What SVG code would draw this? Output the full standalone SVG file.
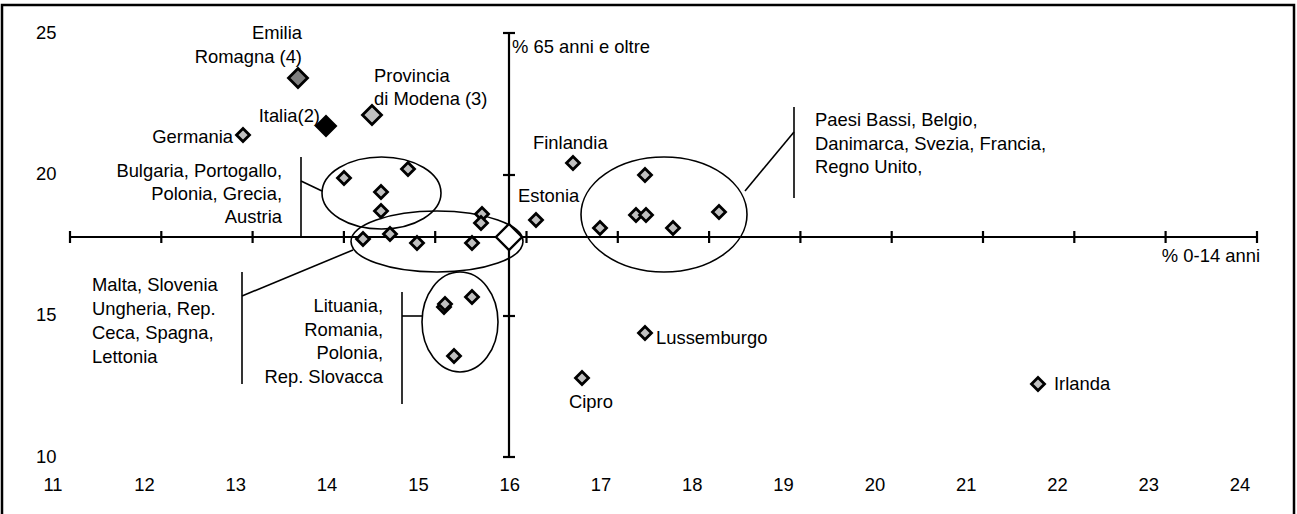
<svg xmlns="http://www.w3.org/2000/svg" width="1297" height="514" viewBox="0 0 1297 514">
<style>
text{font-family:"Liberation Sans",Arial,sans-serif;font-size:18.4px;fill:#000}
.r{text-anchor:end}
.m{text-anchor:middle}
.ax{stroke:#000;stroke-width:2.2;fill:none}
.tk{stroke:#000;stroke-width:2.2}
.pt{fill:#c0c0c0;stroke:#000;stroke-width:2.8;stroke-linejoin:miter}
.ell{fill:none;stroke:#000;stroke-width:1.6}
.ld{stroke:#000;stroke-width:1.6;fill:none}
</style>
<defs>
<path id="d" d="M0,-6.5 L6.5,0 L0,6.5 L-6.5,0 Z"/>
<path id="D" d="M0,-9.5 L9.5,0 L0,9.5 L-9.5,0 Z"/>
</defs>
<rect x="0" y="0" width="1297" height="514" fill="#fff"/>
<rect x="2" y="5" width="1292" height="530" fill="none" stroke="#000" stroke-width="2.5"/>

<g id="axes">
<line class="ax" x1="70" y1="237" x2="1257" y2="237"/>
<line class="ax" x1="509" y1="33" x2="509" y2="457"/>
<g class="tk">
<line x1="70" y1="231" x2="70" y2="243"/><line x1="161.3" y1="231" x2="161.3" y2="243"/><line x1="252.6" y1="231" x2="252.6" y2="243"/><line x1="343.9" y1="231" x2="343.9" y2="243"/><line x1="435.2" y1="231" x2="435.2" y2="243"/><line x1="526.5" y1="231" x2="526.5" y2="243"/><line x1="617.8" y1="231" x2="617.8" y2="243"/><line x1="709.1" y1="231" x2="709.1" y2="243"/><line x1="800.4" y1="231" x2="800.4" y2="243"/><line x1="891.7" y1="231" x2="891.7" y2="243"/><line x1="983" y1="231" x2="983" y2="243"/><line x1="1074.3" y1="231" x2="1074.3" y2="243"/><line x1="1165.6" y1="231" x2="1165.6" y2="243"/><line x1="1257" y1="231" x2="1257" y2="243"/>
<line x1="503" y1="33" x2="515" y2="33"/><line x1="503" y1="175" x2="515" y2="175"/><line x1="503" y1="316" x2="515" y2="316"/><line x1="503" y1="457" x2="515" y2="457"/>
</g>
<text x="512" y="53">% 65 anni e oltre</text>
<text class="r" x="1260" y="262">% 0-14 anni</text>
<text x="36" y="39">25</text><text x="36" y="180">20</text><text x="36" y="321">15</text><text x="36" y="463">10</text>
<g class="m">
<text x="53" y="491">11</text><text x="144.5" y="491">12</text><text x="235.8" y="491">13</text><text x="327.1" y="491">14</text><text x="418.4" y="491">15</text><text x="509.7" y="491">16</text><text x="601" y="491">17</text><text x="692.3" y="491">18</text><text x="783.6" y="491">19</text><text x="874.9" y="491">20</text><text x="966.2" y="491">21</text><text x="1057.5" y="491">22</text><text x="1148.8" y="491">23</text><text x="1240" y="491">24</text>
</g>
</g>

<g id="connectors">
<ellipse class="ell" cx="381.5" cy="193" rx="59.5" ry="36"/>
<ellipse class="ell" cx="437" cy="241.5" rx="86" ry="30.5"/>
<ellipse class="ell" cx="460" cy="322" rx="38" ry="50"/>
<ellipse class="ell" cx="664" cy="214.5" rx="83" ry="57.5"/>
<polyline class="ld" points="301,157 301,237"/>
<line class="ld" x1="301" y1="181" x2="322" y2="191"/>
<line class="ld" x1="242" y1="272" x2="242" y2="384"/>
<line class="ld" x1="242" y1="296" x2="353" y2="250"/>
<line class="ld" x1="402" y1="292" x2="402" y2="404"/>
<line class="ld" x1="402" y1="316" x2="422" y2="316"/>
<line class="ld" x1="794" y1="107" x2="794" y2="198"/>
<line class="ld" x1="794" y1="132" x2="745" y2="191"/>
</g>

<g id="emilia-romagna">
<use href="#D" x="298" y="78" class="pt" style="fill:#7f7f7f"/>
<text class="r" x="302" y="39">Emilia</text>
<text class="r" x="302" y="63">Romagna (4)</text>
</g>
<g id="provincia-modena">
<use href="#D" x="372" y="115" class="pt"/>
<text x="374" y="82">Provincia</text>
<text x="374" y="105">di Modena (3)</text>
</g>
<g id="italia">
<use href="#D" x="326" y="126" class="pt" style="fill:#000"/>
<text class="r" x="320" y="122">Italia(2)</text>
</g>
<g id="germania">
<use href="#d" x="243" y="135" class="pt"/>
<text class="r" x="233" y="143">Germania</text>
</g>
<g id="gruppo-bulgaria">
<use href="#d" x="344" y="178" class="pt"/>
<use href="#d" x="408" y="169" class="pt"/>
<use href="#d" x="381" y="192" class="pt"/>
<use href="#d" x="381" y="211" class="pt"/>
<text class="r" x="282" y="177">Bulgaria, Portogallo,</text>
<text class="r" x="282" y="200">Polonia, Grecia,</text>
<text class="r" x="282" y="223">Austria</text>
</g>
<g id="gruppo-malta">
<use href="#d" x="363" y="239" class="pt"/>
<use href="#d" x="390" y="234" class="pt"/>
<use href="#d" x="417" y="243" class="pt"/>
<use href="#d" x="472" y="243" class="pt"/>
<use href="#d" x="482" y="214" class="pt"/>
<use href="#d" x="481" y="223" class="pt"/>
<text x="92" y="291">Malta, Slovenia</text>
<text x="92" y="315">Ungheria, Rep.</text>
<text x="92" y="339">Ceca, Spagna,</text>
<text x="92" y="363">Lettonia</text>
</g>
<g id="media-ue">
<path d="M509,224 L522,237 L509,250 L496,237 Z" fill="#fff" stroke="#000" stroke-width="2.4"/>
</g>
<g id="gruppo-lituania">
<use href="#d" x="444" y="307" class="pt"/>
<use href="#d" x="445" y="304" class="pt"/>
<use href="#d" x="472" y="297" class="pt"/>
<use href="#d" x="454" y="356" class="pt"/>
<text class="r" x="383" y="312">Lituania,</text>
<text class="r" x="383" y="336">Romania,</text>
<text class="r" x="383" y="359">Polonia,</text>
<text class="r" x="383" y="383">Rep. Slovacca</text>
</g>
<g id="estonia">
<use href="#d" x="536" y="220" class="pt"/>
<text x="518" y="202">Estonia</text>
</g>
<g id="finlandia">
<use href="#d" x="573" y="163" class="pt"/>
<text x="533" y="149">Finlandia</text>
</g>
<g id="gruppo-paesi-bassi">
<use href="#d" x="645" y="175" class="pt"/>
<use href="#d" x="600" y="228" class="pt"/>
<use href="#d" x="636" y="215" class="pt"/>
<use href="#d" x="646" y="215" class="pt"/>
<use href="#d" x="673" y="228" class="pt"/>
<use href="#d" x="719" y="212" class="pt"/>
<text x="815" y="126">Paesi Bassi, Belgio,</text>
<text x="815" y="150">Danimarca, Svezia, Francia,</text>
<text x="815" y="173">Regno Unito,</text>
</g>
<g id="lussemburgo">
<use href="#d" x="645" y="333" class="pt"/>
<text x="656" y="344">Lussemburgo</text>
</g>
<g id="cipro">
<use href="#d" x="582" y="378" class="pt"/>
<text x="569" y="408">Cipro</text>
</g>
<g id="irlanda">
<use href="#d" x="1038" y="384" class="pt"/>
<text x="1054" y="390">Irlanda</text>
</g>
</svg>
